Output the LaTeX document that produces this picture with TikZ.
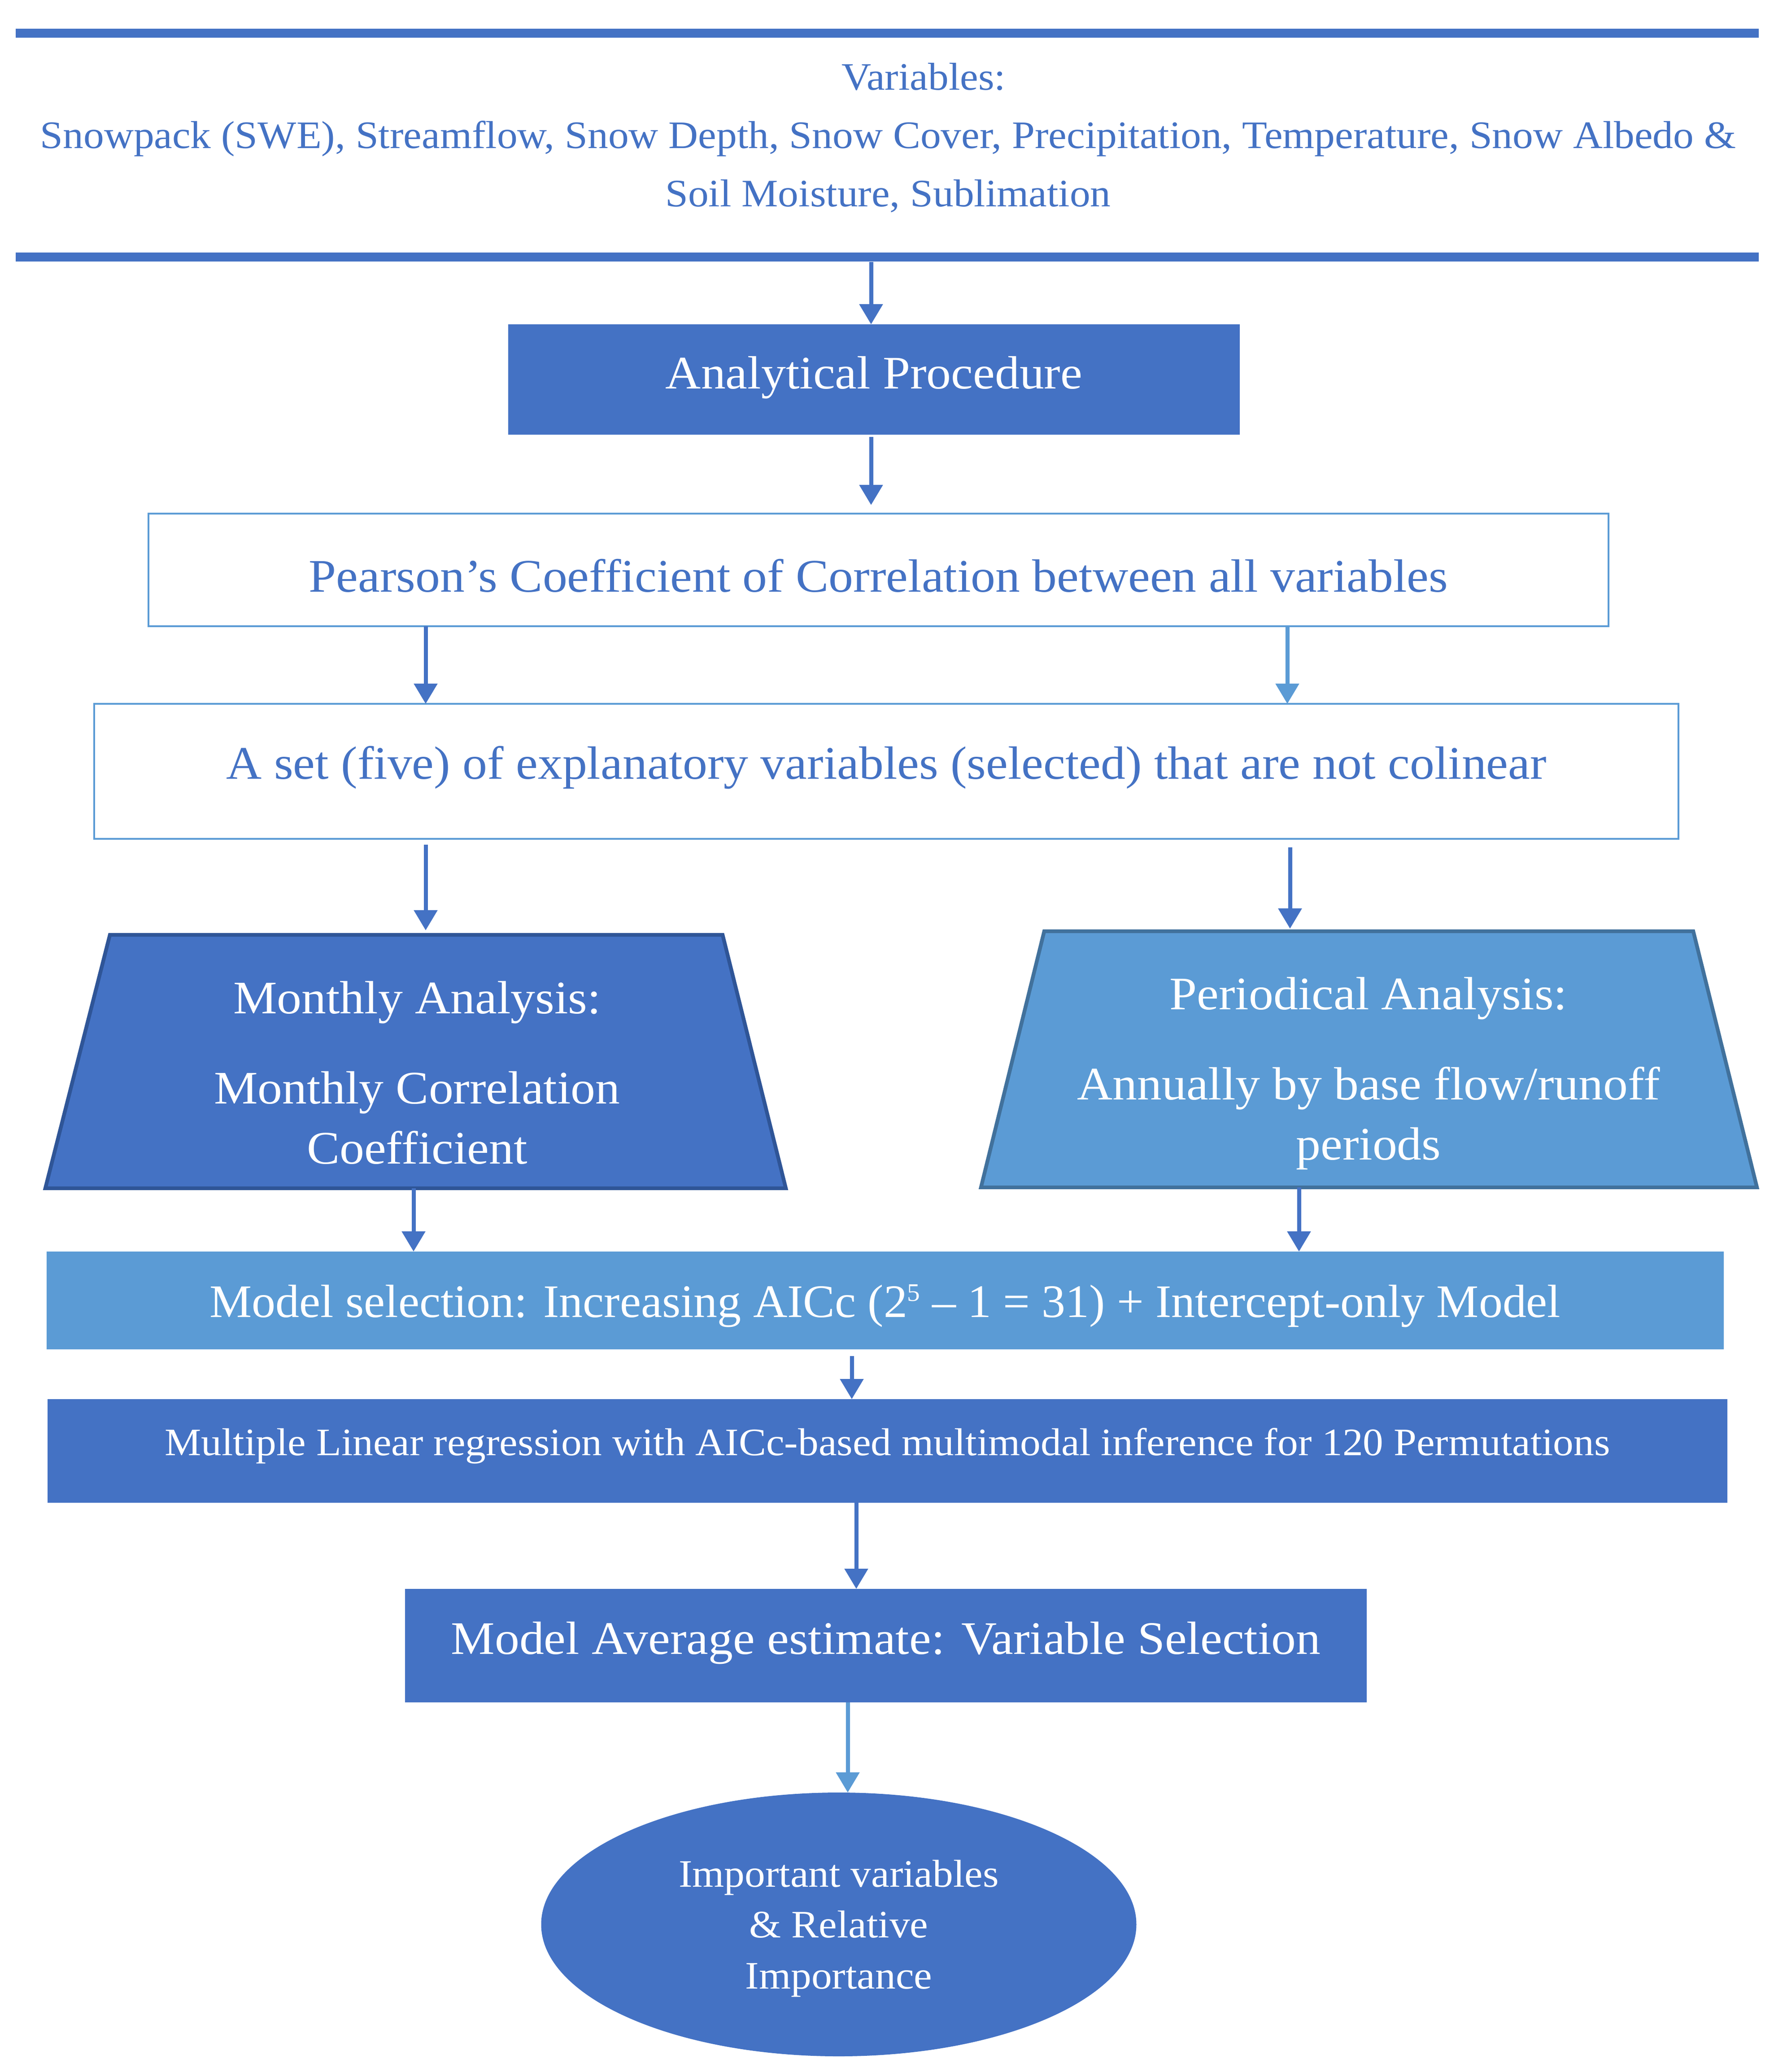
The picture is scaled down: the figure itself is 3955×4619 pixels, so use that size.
\documentclass[tikz,border=0pt]{standalone}
\usepackage{fontspec}
\setmainfont[Scale=1.04,FakeStretch=1.055]{Liberation Serif}
\newfontfamily\narrowserif[Scale=1.04,FakeStretch=1.018]{Liberation Serif}
\usetikzlibrary{arrows.meta,shapes.geometric}
\definecolor{dkblue}{HTML}{4472C4}
\definecolor{ltblue}{HTML}{5B9BD5}
\definecolor{dkedge}{HTML}{2F5597}
\definecolor{ltedge}{HTML}{41719C}
\newcommand\pxu{0.12pt}
\newcommand\smallsup[1]{\raisebox{0.75ex}{\fontsize{6.5}{6.5}\selectfont #1}}
\begin{document}
\begin{tikzpicture}[x=0.12pt,y=-0.12pt,
  box/.style={rectangle, inner sep=0pt, outer sep=0pt, align=center},
  fillbox/.style={box, fill=dkblue, text=white},
  outlinebox/.style={box, draw=ltblue, line width=0.5pt, fill=white, text=dkblue},
  big/.style={font=\fontsize{12}{14.4}\selectfont},
  small/.style={font=\fontsize{10}{12}\selectfont},
  hdrline/.style={line width=2.5pt, draw=dkblue},
  trapdk/.style={fill=dkblue, draw=dkedge, line width=1pt, line join=miter},
  traplt/.style={fill=ltblue, draw=ltedge, line width=1pt, line join=miter},
  conn/.style={line width=1.08pt, draw=dkblue, -{Triangle[width=6.1pt,length=5.4pt]}},
  connlt/.style={conn, draw=ltblue},
]
\useasboundingbox (0,0) rectangle (3955,4619);

% header band
\draw[hdrline] (35,74) -- (3921,74);
\draw[hdrline] (35,573) -- (3921,573);
\coordinate (hdrb) at (1942,584);
\node[box, anchor=north, text=dkblue, font=\fontsize{10}{15.6}\selectfont] (vars) at (1980,140)
  {\hspace*{19pt}Variables:\\Snowpack (SWE), Streamflow, Snow Depth, Snow Cover, Precipitation, Temperature, Snow Albedo \&\\Soil Moisture, Sublimation};

% boxes
\node[fillbox, big, minimum width=1631*\pxu, minimum height=246*\pxu, text height=8pt, text depth=3.2pt] (ap) at (1948.5,846) {Analytical Procedure};
\node[outlinebox, big, minimum width=3255*\pxu, minimum height=251*\pxu, text height=12pt, text depth=0.2pt] (pearson) at (1958.5,1270.5) {Pearson’s Coefficient of Correlation between all variables};
\node[outlinebox, big, minimum width=3532*\pxu, minimum height=301*\pxu, text height=8pt, text depth=4pt] (set) at (1976,1719.5) {A set (five) of explanatory variables (selected) that are not colinear};

% trapezoids
\draw[trapdk] (245,2084) -- (1611,2084) -- (1752,2649) -- (101,2649) -- cycle;
\draw[traplt] (2328,2076) -- (3775,2076) -- (3917,2647) -- (2187,2647) -- cycle;
\node[box, minimum width=1651*\pxu, minimum height=565*\pxu] (monthly) at (926.5,2366.5) {};
\node[box, minimum width=1730*\pxu, minimum height=571*\pxu] (periodical) at (3052,2361.5) {};
\node[box, anchor=north, text=white, font=\fontsize{12}{16.1}\selectfont] (monthlytxt) at (930,2187)
  {Monthly Analysis:\\[8pt]Monthly Correlation\\Coefficient};
\node[box, anchor=north, text=white, font=\fontsize{12}{16.1}\selectfont] (periodicaltxt) at (3051,2178)
  {Periodical Analysis:\\[8pt]Annually by base flow/runoff\\periods};

\node[box, fill=ltblue, text=white, font=\narrowserif\fontsize{12}{14.4}\selectfont, minimum width=3739*\pxu, minimum height=218*\pxu, text height=10pt, text depth=1.1pt] (modelsel) at (1973.5,2899)
  {Model selection: Increasing AICc (2\smallsup{5} – 1 = 31) + Intercept-only Model};
\node[fillbox, small, minimum width=3745*\pxu, minimum height=231*\pxu, text height=7pt, text depth=4.7pt] (multiple) at (1978.5,3234.5)
  {Multiple Linear regression with AICc-based multimodal inference for 120 Permutations};
\node[fillbox, big, minimum width=2144*\pxu, minimum height=253*\pxu, text height=8pt, text depth=3.4pt] (modelavg) at (1975,3668.5)
  {Model Average estimate: Variable Selection};
\node[ellipse, fill=dkblue, inner sep=0pt, outer sep=0pt, minimum width=1327*\pxu, minimum height=588*\pxu] (result) at (1870,4290) {};
\node[box, text=white, font=\fontsize{10}{13.6}\selectfont] (resulttxt) at (1870,4299)
  {Important variables\\\& Relative\\Importance};

% arrow columns
\coordinate (xa) at (1942,0);
\coordinate (xl) at (949,0);
\coordinate (xr) at (2870,0);
\coordinate (xr2) at (2876,0);
\coordinate (xm) at (922,0);
\coordinate (xp) at (2896,0);
\coordinate (xs) at (1899,0);
\coordinate (xt) at (1909,0);
\coordinate (xu) at (1890,0);

% connectors
\draw[conn] (hdrb) -- (ap.north -| xa);
\draw[conn, shorten <=0.6pt, shorten >=2.3pt] (ap.south -| xa) -- (pearson.north -| xa);
\draw[conn] (pearson.south -| xl) -- (set.north -| xl);
\draw[connlt] (pearson.south -| xr) -- (set.north -| xr);
\draw[conn, shorten <=1.5pt, shorten >=1.2pt] (set.south -| xl) -- (monthly.north -| xl);
\draw[conn, shorten <=2.3pt, shorten >=0.7pt] (set.south -| xr2) -- (periodical.north -| xr2);
\draw[conn] (monthly.south -| xm) -- (modelsel.north -| xm);
\draw[conn] (periodical.south -| xp) -- (modelsel.north -| xp);
\draw[conn, shorten <=1.8pt] (modelsel.south -| xs) -- (multiple.north -| xs);
\draw[conn] (multiple.south -| xt) -- (modelavg.north -| xt);
\draw[connlt] (modelavg.south -| xu) -- (result.north -| xu);
\end{tikzpicture}
\end{document}
